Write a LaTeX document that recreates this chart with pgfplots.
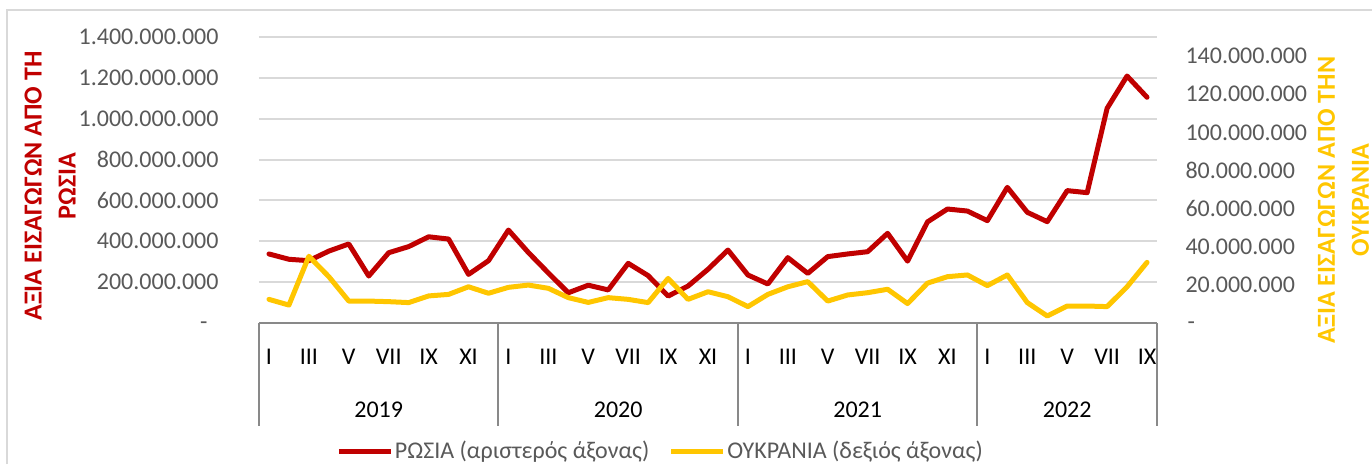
\documentclass[border=0pt]{standalone}
\usepackage{pgfplots}
\pgfplotsset{compat=1.18}
\usepackage{pgfplotstable}
\usepackage{fontspec}
\setmainfont{Carlito}
\definecolor{rus}{HTML}{C00000}
\definecolor{ukr}{HTML}{FFC600}
\definecolor{gridc}{HTML}{D9D9D9}
\definecolor{axc}{HTML}{898989}
\definecolor{txt}{HTML}{595959}

\pgfplotstableread{
i rus ukr
0 338000000 12400000
1 312000000 9400000
2 305000000 35000000
3 352000000 24300000
4 387000000 11500000
5 230000000 11500000
6 344000000 11200000
7 374000000 10700000
8 422000000 14200000
9 411000000 15000000
10 238000000 19000000
11 305000000 15600000
12 455000000 18700000
13 345000000 19900000
14 245000000 18200000
15 148000000 13300000
16 185000000 10800000
17 162000000 13300000
18 292000000 12400000
19 232000000 10700000
20 132000000 23400000
21 181000000 12400000
22 263000000 16400000
23 357000000 13800000
24 235000000 8600000
25 191000000 15000000
26 320000000 19000000
27 243000000 21700000
28 325000000 11500000
29 338000000 14700000
30 349000000 15900000
31 439000000 17700000
32 303000000 10200000
33 495000000 20900000
34 558000000 24300000
35 548000000 25200000
36 501000000 19600000
37 664000000 25200000
38 542000000 10700000
39 496000000 3700000
40 648000000 8900000
41 638000000 8900000
42 1051000000 8600000
43 1209000000 19000000
44 1105000000 31800000
}\datatable

\begin{document}
\begin{tikzpicture}
\path[use as bounding box] (0pt,0pt) rectangle (548.8pt,185.6pt);
\draw[gridc, line width=0.6pt] (2.8pt,0pt) -- (2.8pt,181.6pt) -- (548.8pt,181.6pt);
\begin{axis}[
  at={(103.6pt,56.4pt)}, anchor=south west,
  width=359.2pt, height=114.4pt, scale only axis,
  xmin=-0.5, xmax=44.5, ymin=0, ymax=1400000000,
  axis line style={draw=none},
  tick style={draw=none}, major tick length=0pt,
  ytick={0,200000000,400000000,600000000,800000000,1000000000,1200000000,1400000000},
  yticklabels={{},200.000.000,400.000.000,600.000.000,800.000.000,1.000.000.000,1.200.000.000,1.400.000.000},
  scaled y ticks=false,
  ymajorgrids, major grid style={gridc, line width=0.8pt},
  yticklabel style={anchor=east, inner sep=0pt, xshift=-16pt, font=\fontsize{9.6pt}{11pt}\selectfont, text=txt},
  xtick={0,2,...,44},
  xticklabels={I,III,V,VII,IX,XI,I,III,V,VII,IX,XI,I,III,V,VII,IX,XI,I,III,V,VII,IX},
  xticklabel style={anchor=center, inner sep=0pt, yshift=-13.6pt, font=\fontsize{9.6pt}{11pt}\selectfont, text=black},
  clip=false,
  legend style={at={(0.447,-0.451)}, anchor=center, draw=none, fill=none,
    legend columns=2, font=\fontsize{9.6pt}{11pt}\selectfont, text=txt,
    nodes={inner sep=0.6pt},
    /tikz/every even column/.append style={column sep=7.2pt}},
  legend image code/.code={\draw[#1, line cap=butt] (0pt,0pt) -- (20.8pt,0pt);},
]
\addplot[rus, line width=2pt, line join=round, line cap=round] table[x=i, y=rus] {\datatable};
\addlegendentry{ΡΩΣΙΑ (αριστερός άξονας)}
\addlegendimage{ukr, line width=2pt}
\addlegendentry{ΟΥΚΡΑΝΙΑ (δεξιός άξονας)}
\draw[axc, line width=0.8pt] (axis cs:-0.5,0) -- (axis cs:44.5,0);
\pgfplotsinvokeforeach{-0.5,11.5,23.5,35.5,44.5}{
  \draw[axc, line width=0.8pt] (axis cs:#1,0) -- ++(0pt,-41.2pt);
}
\node[font=\fontsize{9.6pt}{11pt}\selectfont, text=txt, inner sep=0pt, anchor=east, xshift=-20.4pt, yshift=-1.1pt] at (axis cs:-0.5,0) {-};
\node[font=\fontsize{9.6pt}{11pt}\selectfont, inner sep=0pt, anchor=center, yshift=-34.8pt] at (axis cs:5.5,0) {2019};
\node[font=\fontsize{9.6pt}{11pt}\selectfont, inner sep=0pt, anchor=center, yshift=-34.8pt] at (axis cs:17.5,0) {2020};
\node[font=\fontsize{9.6pt}{11pt}\selectfont, inner sep=0pt, anchor=center, yshift=-34.8pt] at (axis cs:29.5,0) {2021};
\node[font=\fontsize{9.6pt}{11pt}\selectfont, inner sep=0pt, anchor=center, yshift=-34.8pt] at (axis cs:40,0) {2022};
\end{axis}
\begin{axis}[
  at={(103.6pt,56.4pt)}, anchor=south west,
  width=359.2pt, height=114.4pt, scale only axis,
  xmin=-0.5, xmax=44.5, ymin=0, ymax=150000000,
  hide x axis,
  axis line style={draw=none},
  tick style={draw=none}, major tick length=0pt,
  ytick={0,20000000,40000000,60000000,80000000,100000000,120000000,140000000},
  yticklabels={{},20.000.000,40.000.000,60.000.000,80.000.000,100.000.000,120.000.000,140.000.000},
  yticklabel pos=right,
  scaled y ticks=false,
  yticklabel style={anchor=west, inner sep=0pt, xshift=11.2pt, font=\fontsize{9.6pt}{11pt}\selectfont, text=txt},
  clip=false,
]
\addplot[ukr, line width=2pt, line join=round, line cap=round] table[x=i, y=ukr] {\datatable};
\node[font=\fontsize{9.6pt}{11pt}\selectfont, text=txt, inner sep=0pt, anchor=west, xshift=12pt, yshift=-1.1pt] at (axis cs:44.5,0) {-};
\end{axis}
\node[rotate=90, align=center, text=rus, inner sep=0pt, font=\fontsize{10.4pt}{13.6pt}\selectfont\bfseries] at (20pt,111.2pt) {ΑΞΙΑ ΕΙΣΑΓΩΓΩΝ ΑΠΟ ΤΗ\\ΡΩΣΙΑ};
\node[rotate=90, align=center, text=ukr, inner sep=0pt, font=\fontsize{10.4pt}{13.6pt}\selectfont\bfseries] at (537.4pt,105.6pt) {ΑΞΙΑ ΕΙΣΑΓΩΓΩΝ ΑΠΟ ΤΗΝ\\ΟΥΚΡΑΝΙΑ};
\end{tikzpicture}
\end{document}
